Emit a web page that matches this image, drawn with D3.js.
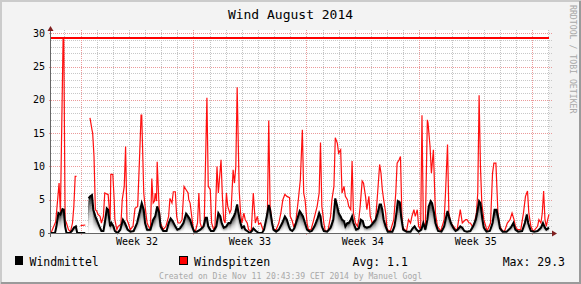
<!DOCTYPE html>
<html>
<head>
<meta charset="utf-8">
<script src="https://cdn.jsdelivr.net/npm/d3@7"></script>
<style>
  body { margin: 0; background: #f3f3f3; }
  svg { display: block; }
  text { font-family: 'DejaVu Sans Mono', monospace; }
</style>
</head>
<body>
<svg id="chart" width="581" height="284"></svg>
<script>
// hours since 2014-08-01 00:00, value (m/s); null = no data
const windspitzen = [
  [28, 0], [35, 1.7], [37, 4], [40, 7.5], [42, 3], [46, 29.3], [47, 29.3], [49, 2], [51, 1.5], [54, 0.5], [57, 0.2], [60, 1.5], [62, 4], [64, 8.5], [66, 8.5], [67, null],
  [72, 1.1], [79, 1.2], [80, null],
  [86, 17.3], [89, 15.5], [90, 15], [92, 11.5], [94, 3.5], [96, 3.3], [98, 2.8], [101, 2.5], [103, 1.5], [106, 2.5], [108, 6], [112, 5.8], [113, 5.8], [116, 2], [117, 8.8], [120, 8.8], [122, 5], [123, 2], [126, 0.5], [128, 1], [132, 1.3], [134, 5], [137, 7], [139, 13], [141, 2], [143, 1.5], [146, 0.5], [150, 1], [153, 3.7], [157, 4], [160, 12], [162, 17.7], [163, 17.7], [166, 6], [168, 4], [171, 1.5], [173, 1], [176, 0.5], [178, 8.2], [180, 4.5], [182, 4.8], [183, 6], [185, 4.8], [186, 10.7], [189, 3.5], [191, 1.5], [195, 0.5], [199, 1], [203, 2.5], [205, 5.2], [208, 4.5], [210, 6.2], [213, 6.2], [215, 2.5], [217, 1.5], [220, 1.5], [223, 2], [226, 7], [229, 6.5], [232, 6], [233, 5], [235, 4.5], [238, 2], [240, 0.5],
  [243, 0.3], [246, 1.5], [248, 6], [250, 1.5], [253, 0.5], [256, 1.5], [260, 20.3], [262, 7], [265, 6.5], [267, 1.5], [270, 0.5], [272, 1], [275, 10], [277, 6], [281, 11], [283, 5.5], [285, 2], [287, 1.5], [289, 6], [291, 4], [294, 3], [296, 3.5], [299, 9.5], [301, 7.5], [303, 10], [305, 21.9], [308, 6.5], [310, 3], [312, 1.5], [315, 3], [317, 2], [320, 1.5], [322, 0.5], [326, 0.3], [329, 6], [332, 1.5], [335, 2.5], [337, 1.3], [340, 1.5], [344, 0.3], [348, 1], [350, 3], [352, 16.9], [354, 4], [357, 1.5], [359, 0.5], [363, 0.5], [367, 1.5], [370, 3], [373, 5], [376, 5.8], [379, 5.5], [383, 5.3], [384, 2.5], [387, 1.8], [389, 1], [392, 1.5], [396, 5], [399, 8], [402, 15.5], [404, 6], [406, 5],
  [409, 1.5], [411, 0.5], [415, 0.5], [419, 2], [424, 4], [427, 6], [429, 13.6], [431, 4], [434, 1.5], [436, 0.3], [440, 0.3], [444, 2.5], [446, 5], [449, 7], [451, 14.3], [454, 13.5], [456, 12], [459, 12.5], [461, 6], [464, 7], [466, 5.5], [469, 5], [471, 4], [474, 3.5], [476, 10.8], [478, 3], [481, 1.5], [484, 1], [486, 2], [488, 4], [491, 7.8], [493, 7.5], [496, 5.5], [498, 3.5], [501, 5.5], [503, 2.5], [506, 1.5], [511, 2], [514, 6], [517, 10.3], [519, 9], [521, 6.5], [523, 5], [526, 3], [528, 0.5], [533, 0.3], [538, 2], [541, 6], [543, 10.5], [546, 11], [548, 11.5], [550, 3], [551, 1], [554, 0.5], [557, 0.3], [560, 2], [563, 1.5], [565, 2.5], [568, 3.5], [570, 2.5], [573, 3.5], [575, 1],
  [578, 0.5], [580, 17.7], [582, 1.5], [585, 1], [588, 17], [589, 16.5], [592, 13], [594, 9], [597, 12.5], [599, 6], [600, 3], [603, 1], [608, 0.3], [613, 2], [615, 6], [618, 13.3], [620, 3], [623, 1.5], [627, 1], [632, 0.3], [637, 3.5], [640, 1.5], [645, 2], [647, 2], [650, 1.5], [652, 1.5], [655, 1], [657, 1], [661, 3], [663, 6], [665, 20.7], [667, 10], [669, 4.5], [672, 2], [677, 0.3], [682, 1.5], [685, 9], [687, 10.5], [690, 10.5], [691, 8], [693, 3], [696, 1], [700, 0.3], [703, 0.3], [707, 1.5], [711, 2], [714, 3], [717, 2], [719, 1], [722, 0.5], [727, 0.5], [731, 3], [734, 5.5], [737, 6.3], [739, 3], [742, 1], [745, 0.3], [748, 0.5], [752, 1], [754, 2], [757, 1.5], [759, 3], [761, 6.3], [763, 2], [765, 1], [767, 2], [769, 2.8]
]

const windmittel = [
  [28, 0], [34, 0], [36, 1], [39, 3], [42, 2.8], [45, 3.6], [47, 3.5], [49, 1], [51, 0], [56, 0], [59, 0.3], [62, 0.8], [65, 1], [67, 0], [79, 0], [81, null],
  [84, 5.2], [86, 5.5], [89, 5.7], [91, 3.5], [94, 2.5], [96, 2], [100, 1], [103, 0.3], [106, 0.3], [108, 1.5], [111, 3.7], [113, 3.5], [116, 1], [118, 1.5], [121, 1], [123, 0.3], [127, 0], [131, 0.5], [135, 2], [138, 1.5], [142, 0.5], [146, 0.2], [151, 0.3], [156, 1.5], [160, 3.2], [163, 4.5], [166, 3.5], [168, 1.5], [171, 0.5], [176, 0.5], [180, 2], [183, 2.5], [186, 4], [189, 3], [191, 1], [195, 0.3], [200, 0.3], [203, 1.5], [206, 2.2], [209, 1.8], [213, 1], [216, 0.5], [220, 0.7], [225, 1.5], [229, 2.9], [232, 2.5], [235, 2], [238, 1],
  [241, 0.2], [245, 0.2], [250, 0.5], [255, 1], [258, 2.3], [260, 2.3], [262, 1], [266, 0.3], [270, 0.3], [274, 1], [277, 3], [280, 2.5], [282, 1.5], [285, 0.8], [289, 1], [292, 1.5], [295, 1.5], [297, 2], [300, 2.5], [302, 3], [305, 4.3], [307, 3], [310, 1.5], [312, 0.8], [315, 1], [317, 0.5], [320, 0.3], [324, 0], [327, 0.3], [329, 0.7], [333, 0.3], [337, 0], [342, 0], [345, 0.5], [349, 2.5], [352, 4.2], [354, 3.5], [357, 1.5], [359, 0.5], [363, 0.2], [367, 0.5], [372, 1.5], [376, 2.5], [379, 2], [382, 1], [384, 0.5], [387, 0.3], [390, 0.7], [394, 2], [398, 3.3], [400, 3], [403, 2.5], [406, 1.5],
  [409, 0.5], [413, 0.2], [416, 0.3], [420, 1], [424, 2], [427, 3], [429, 2.5], [431, 1], [434, 0.3], [439, 0.2], [444, 0.8], [448, 2], [451, 5.2], [454, 4], [456, 3], [459, 2.5], [461, 2], [464, 1.8], [466, 1], [469, 1.5], [471, 1.5], [474, 2], [476, 2.5], [478, 1.5], [482, 0.5], [486, 0.7], [489, 2], [492, 1.8], [494, 1], [498, 0.8], [503, 1], [507, 1.5], [511, 2], [514, 3], [517, 4.3], [519, 4.3], [521, 3.5], [523, 2], [526, 1], [529, 0.2], [536, 0.2], [539, 1], [542, 3], [544, 4.8], [547, 4.6], [549, 2.5], [552, 0.5], [557, 0.2], [563, 0.2], [566, 0.7], [569, 1], [572, 0.5], [575, 0.2],
  [579, 0.5], [582, 1.5], [585, 0.5], [588, 2], [590, 4], [593, 4.8], [595, 4.5], [598, 3], [600, 1.5], [604, 0.3], [609, 0.2], [613, 1], [615, 2], [618, 3.3], [620, 2.5], [623, 1.5], [627, 0.7], [630, 0.3], [633, 0.5], [637, 1], [640, 0.8], [643, 0.3], [647, 0.2], [652, 0.3], [656, 1], [660, 2], [662, 3], [665, 4.8], [667, 4.5], [670, 2], [672, 0.8], [676, 0.2], [681, 0.3], [685, 1.5], [688, 3.5], [691, 3.5], [694, 2], [696, 0.7], [700, 0.2], [706, 0.2], [712, 0.8], [716, 1.5], [719, 0.5], [723, 0.2], [729, 0.3], [733, 1.5], [736, 2.8], [738, 1.5], [742, 0.3], [747, 0.2], [752, 0.3], [757, 0.8], [760, 1.5], [763, 0.8], [765, 0.5], [769, 0.8]
]

const yTicks = [0, 5, 10, 15, 20, 25, 30]
const timeRange = [28, 769]
const avgValue = '1.1'
const titleText = 'Wind August 2014'
const footerText = 'Created on Die Nov 11 20:43:39 CET 2014 by Manuel Gogl'
const watermark = 'RRDTOOL / TOBI OETIKER'

const base = Date.UTC(2014, 7, 1)
const toDate = h => new Date(base + h * 36e5)

const svg = d3.select('#chart')
const W = 581
const H = 284
const plotLeft = 51
const plotRight = 549
const plotBottom = 233
const plotTop = 33.3

const x = d3.scaleUtc().domain(timeRange.map(toDate)).range([plotLeft, plotRight])
const y = d3.scaleLinear().domain([0, 30]).range([plotBottom, plotTop])

// frame
svg.append('rect').attr('width', W).attr('height', H).attr('fill', '#f3f3f3')
svg.append('path').attr('d', `M1,${H} V1 H${W}`).attr('fill', 'none').attr('stroke', '#cbcbcb').attr('stroke-width', 2)
svg.append('path').attr('d', `M1,${H - 1} H${W - 1} V1`).attr('fill', 'none').attr('stroke', '#9a9a9a').attr('stroke-width', 2)

svg.append('rect').attr('x', plotLeft).attr('y', 30).attr('width', plotRight - plotLeft).attr('height', plotBottom - 30).attr('fill', '#fff')

// grid
const grid = svg.append('g').attr('shape-rendering', 'crispEdges')
const days = d3.utcDay.range(x.domain()[0], x.domain()[1])
const weeks = d3.utcMonday.range(x.domain()[0], x.domain()[1])
days.filter(d => d.getUTCDay() !== 1).forEach(d => {
  grid.append('line').attr('x1', Math.round(x(d)) + 0.5).attr('x2', Math.round(x(d)) + 0.5)
    .attr('y1', 30).attr('y2', plotBottom)
    .attr('stroke', '#c4c4c4').attr('stroke-dasharray', '1,1')
})
d3.range(1, 31).filter(v => v % 5 !== 0).forEach(v => {
  grid.append('line').attr('x1', plotLeft).attr('x2', plotRight + 3)
    .attr('y1', Math.round(y(v)) + 0.5).attr('y2', Math.round(y(v)) + 0.5)
    .attr('stroke', '#c8c8c8').attr('stroke-dasharray', '1,1')
})
weeks.forEach(d => {
  grid.append('line').attr('x1', Math.round(x(d)) + 0.5).attr('x2', Math.round(x(d)) + 0.5)
    .attr('y1', 30).attr('y2', plotBottom + 2)
    .attr('stroke', '#eb9a9a').attr('stroke-dasharray', '1,1')
})
yTicks.filter(v => v > 0).forEach(v => {
  grid.append('line').attr('x1', plotLeft - 2).attr('x2', plotRight + 3)
    .attr('y1', Math.round(y(v)) + 0.5).attr('y2', Math.round(y(v)) + 0.5)
    .attr('stroke', '#eb9a9a').attr('stroke-dasharray', '1,1')
})

// Windspitzen
const defined = d => d[1] !== null
svg.append('path').datum(windspitzen)
  .attr('fill', 'none').attr('stroke', '#ff1010').attr('stroke-width', 1.2)
  .attr('d', d3.line().defined(defined).x(d => x(toDate(d[0]))).y(d => y(d[1])))

// Windmittel: stacked bands, dark at the top fading to white at the base
const bands = 14
const shade = d3.interpolateRgb('#ffffff', '#262626')
for (let i = bands; i >= 1; i--) {
  svg.append('path').datum(windmittel)
    .attr('fill', shade(Math.pow(i / bands, 2.2)))
    .attr('d', d3.area().defined(defined)
      .x(d => x(toDate(d[0])))
      .y0(y(0))
      .y1(d => y(d[1] * i / bands)))
}
svg.append('path').datum(windmittel)
  .attr('fill', 'none').attr('stroke', '#000').attr('stroke-width', 2)
  .attr('d', d3.line().defined(defined).x(d => x(toDate(d[0]))).y(d => y(d[1])))

// max rule
const maxValue = d3.max(windspitzen, d => d[1])
svg.append('line').attr('x1', plotLeft).attr('x2', plotRight)
  .attr('y1', y(maxValue)).attr('y2', y(maxValue))
  .attr('stroke', '#ff0000').attr('stroke-width', 2)

// axes
const axes = svg.append('g').attr('shape-rendering', 'crispEdges')
axes.append('line').attr('x1', plotLeft - 0.5).attr('x2', plotLeft - 0.5).attr('y1', 29).attr('y2', plotBottom + 4)
  .attr('stroke', '#666')
axes.append('line').attr('x1', plotLeft - 3).attr('x2', plotRight + 3).attr('y1', plotBottom + 0.5).attr('y2', plotBottom + 0.5)
  .attr('stroke', '#666')
svg.append('path').attr('d', `M${plotLeft - 3.5},31 L${plotLeft - 0.5},26 L${plotLeft + 2.5},31 Z`).attr('fill', '#7f1f1f')
svg.append('path').attr('d', `M${plotRight + 3},${plotBottom - 2.5} L${plotRight + 8},${plotBottom + 0.5} L${plotRight + 3},${plotBottom + 3.5} Z`).attr('fill', '#7f1f1f')

svg.append('g').selectAll('text').data(yTicks).join('text')
  .attr('x', 45).attr('y', d => y(d) + 3.5)
  .attr('text-anchor', 'end').attr('font-size', 10).attr('fill', '#000')
  .text(d => d)

const weekFmt = d3.utcFormat('Week %V')
svg.append('g').selectAll('text').data(weeks.slice(0, 4)).join('text')
  .attr('x', d => x(d3.utcHour.offset(d, 84)))
  .attr('y', 245)
  .attr('text-anchor', 'middle').attr('font-size', 10).attr('fill', '#000')
  .text(d => weekFmt(d))

// title, watermark, footer
svg.append('text').attr('x', W / 2).attr('y', 19).attr('text-anchor', 'middle')
  .attr('font-size', 13).attr('fill', '#000').text(titleText)
svg.append('text').attr('transform', 'translate(570,5) rotate(90)')
  .attr('font-size', 8.2).attr('fill', '#a8a8a8').text(watermark)
svg.append('text').attr('x', W / 2).attr('y', 279).attr('text-anchor', 'middle')
  .attr('font-size', 8.1).attr('fill', '#a8a8a8').text(footerText)

// legend
const legend = svg.append('g').attr('font-size', 11.5).attr('fill', '#000')
legend.append('rect').attr('x', 15).attr('y', 256).attr('width', 8).attr('height', 9).attr('fill', '#000')
legend.append('text').attr('x', 29.5).attr('y', 265.5).text('Windmittel')
legend.append('rect').attr('x', 179.5).attr('y', 256.5).attr('width', 8).attr('height', 8)
  .attr('fill', '#ff0000').attr('stroke', '#000')
legend.append('text').attr('x', 194).attr('y', 265.5).text('Windspitzen')
legend.append('text').attr('x', 352.5).attr('y', 265.5).text('Avg: ' + avgValue)
legend.append('text').attr('x', 565).attr('y', 265.5).attr('text-anchor', 'end').text('Max: ' + d3.format('.1f')(maxValue))
</script>
</body>
</html>
